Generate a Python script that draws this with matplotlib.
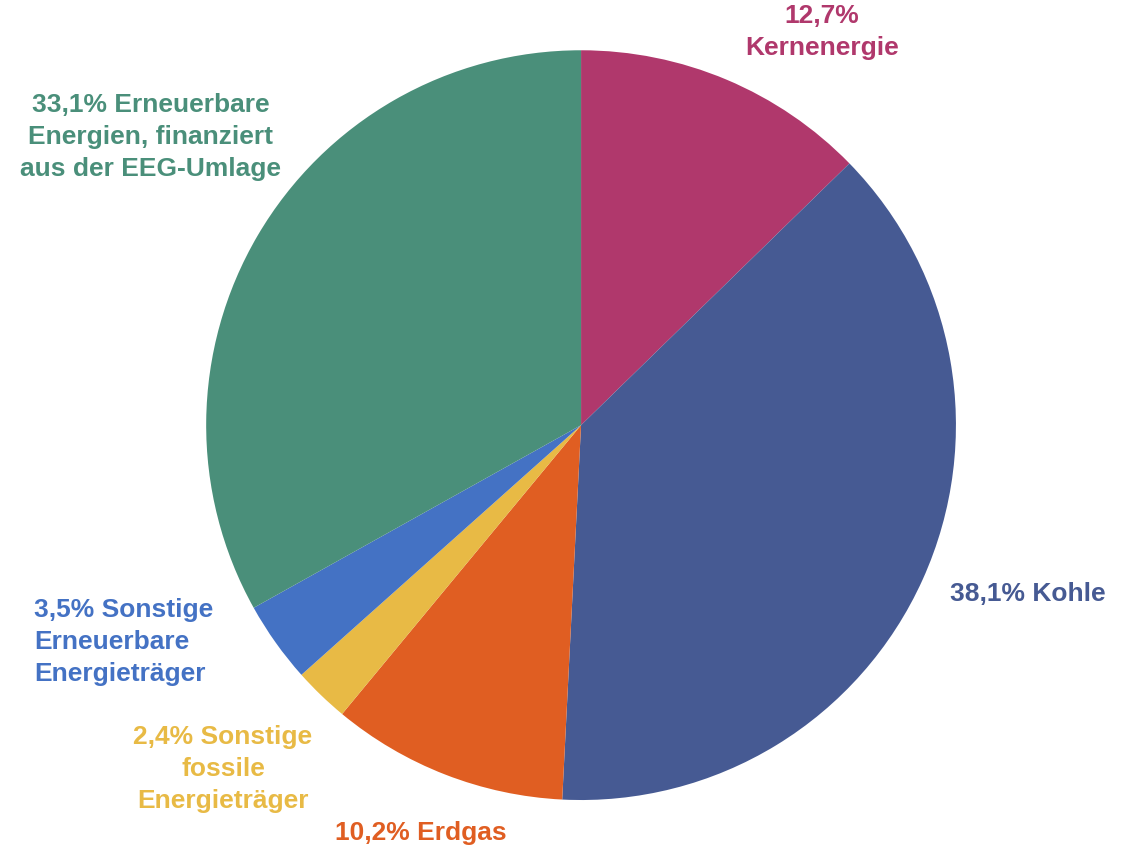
import matplotlib
matplotlib.use("Agg")
import matplotlib.pyplot as plt

# ----------------------
# data
# ----------------------
labels = [
    "12,7%\nKernenergie",
    "38,1% Kohle",
    "10,2% Erdgas",
    "2,4% Sonstige\nfossile\nEnergieträger",
    "3,5% Sonstige\nErneuerbare\nEnergieträger",
    "33,1% Erneuerbare\nEnergien, finanziert\naus der EEG-Umlage",
]
shares = [12.7, 38.1, 10.2, 2.4, 3.5, 33.1]
colors = ["#B0386C", "#465A93", "#E05E22", "#E8BA45", "#4472C4", "#4A8F7A"]

# label spots in pie units (radius = 1) and alignment
label_pos = [(0.643, 1.05), (0.984, -0.451), (-0.427, -1.088),
             (-0.955, -0.917), (-1.459, -0.579), (-1.149, 0.768)]
label_ha = ["center", "left", "center", "center", "left", "center"]

plt.rcParams["font.family"] = ["Liberation Sans", "DejaVu Sans"]

fig = plt.figure(figsize=(11.4, 8.52), dpi=100)
ax = fig.add_axes([0.1807, 0.0610, 0.658, 0.880])

ax.pie(shares, colors=colors, startangle=90, counterclock=False,
       radius=1, wedgeprops={"linewidth": 0})

for txt, (x, y), ha, c in zip(labels, label_pos, label_ha, colors):
    ax.text(x, y, txt, color=c, ha=ha, va="center", fontsize=19,
            fontweight="bold", linespacing=1.42, multialignment=ha)

ax.set_xlim(-1, 1)
ax.set_ylim(-1, 1)
ax.set_aspect("equal")
ax.axis("off")

fig.savefig("out.png", dpi=100)
